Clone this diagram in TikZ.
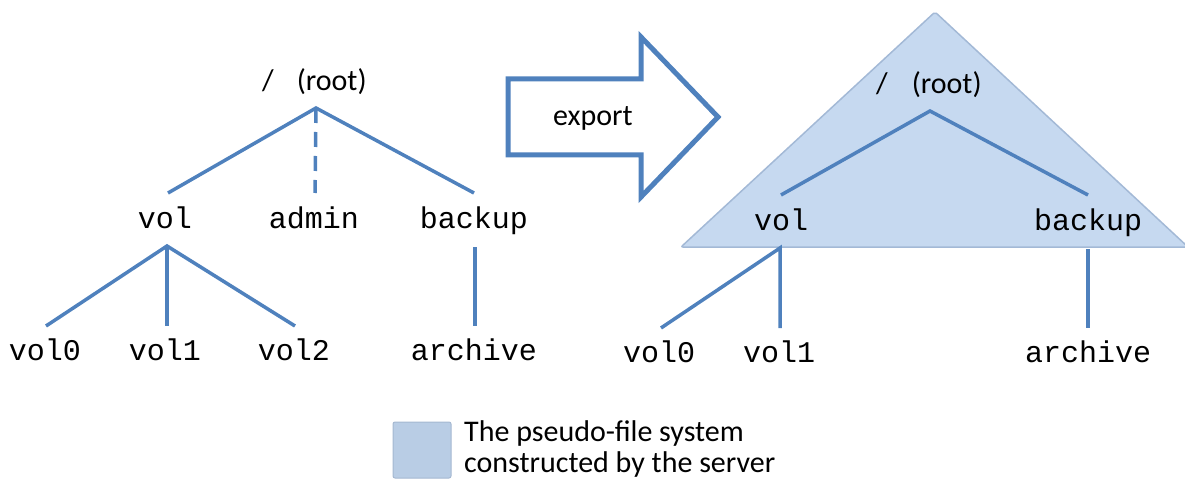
\documentclass[tikz,border=0pt]{standalone}
\usepackage{fontspec}
\setmainfont{Carlito}
\newfontfamily\codefont{Liberation Mono}
\definecolor{treeblue}{HTML}{4F81BD}
\definecolor{pseudofill}{HTML}{C6D9F0}
\definecolor{pseudoedge}{HTML}{A3B9D6}
\definecolor{legendfill}{HTML}{B9CDE5}
\definecolor{legendedge}{HTML}{A5B8D1}
\begin{document}
\begin{tikzpicture}[x=1pt,y=-1pt,
  branch/.style={draw=treeblue, line width=3.5pt},
  dirname/.style={font=\codefont\fontsize{30}{30}\selectfont, anchor=base, inner sep=0pt},
  caption/.style={font=\fontsize{30}{30}\selectfont, anchor=base west, inner sep=0pt},
  legendtext/.style={font=\fontsize{30}{31}\selectfont, anchor=base west, inner sep=0pt}]
\useasboundingbox (0,0) rectangle (1185,481);

% ---- pseudo-file system (drawn first, behind the right tree) ----
\path[fill=pseudofill, draw=pseudoedge, line width=1.5pt, rounded corners=2pt]
  (935,12) -- (1188,247) -- (681,247) -- cycle;

% ---- export arrow ----
\draw[treeblue, line width=5pt, fill=white, line join=miter]
  (508,79) -- (641,79) -- (641,37) -- (718,117) -- (641,197) -- (641,155) -- (508,155) -- cycle;
\node[caption] (export) at (553,126) {export};

% ---- original server tree ----
\node[caption] (lroot) at (262,91) {/\hspace{23pt}(root)};
\node[dirname] (lvol) at (165,228) {vol};
\node[dirname] (ladmin) at (314,228) {admin};
\node[dirname] (lbackup) at (474,228) {backup};
\node[dirname] (lvol0) at (45,360) {vol0};
\node[dirname] (lvol1) at (165,360) {vol1};
\node[dirname] (lvol2) at (294,360) {vol2};
\node[dirname] (larchive) at (474,360) {archive};

\coordinate (lroot-j) at (316,108);
\coordinate (lvol-t) at (168,193);
\coordinate (ladmin-t) at (315,193);
\coordinate (lbackup-t) at (474,193);
\coordinate (lvol-j) at (167,246);
\coordinate (lvol0-t) at (46,326);
\coordinate (lvol1-t) at (167,326);
\coordinate (lvol2-t) at (295,326);
\coordinate (lbackup-b) at (475,247);
\coordinate (larchive-t) at (475,326);

\draw[branch] (lvol-t) -- (lroot-j) -- (lbackup-t);
\draw[branch, dash pattern=on 15pt off 9pt] (lroot-j) -- (ladmin-t);
\draw[branch] (lvol0-t) -- (lvol-j) -- (lvol2-t);
\draw[branch] (lvol-j) -- (lvol1-t);
\draw[branch] (lbackup-b) -- (larchive-t);

% ---- exported pseudo-file system tree ----
\node[caption] (rroot) at (876,94) {/\hspace{24pt}(root)};
\node[dirname] (rvol) at (781,230) {vol};
\node[dirname] (rbackup) at (1088,230) {backup};
\node[dirname] (rvol0) at (659,362) {vol0};
\node[dirname] (rvol1) at (779,362) {vol1};
\node[dirname] (rarchive) at (1088,362) {archive};

\coordinate (rroot-j) at (930,111);
\coordinate (rvol-t) at (781,195);
\coordinate (rbackup-t) at (1088,195);
\coordinate (rvol-j) at (780,248);
\coordinate (rvol0-t) at (661,328);
\coordinate (rvol1-t) at (780,328);
\coordinate (rbackup-b) at (1088,249);
\coordinate (rarchive-t) at (1088,328);

\draw[branch] (rvol-t) -- (rroot-j) -- (rbackup-t);
\draw[branch] (rvol0-t) -- (rvol-j) -- (rvol1-t);
\draw[branch] (rbackup-b) -- (rarchive-t);

% ---- legend ----
\path[fill=legendfill, draw=legendedge, line width=1pt, rounded corners=2pt]
  (393,422) rectangle (451,478);
\node[legendtext] (legend1) at (464,441) {The pseudo-file system};
\node[legendtext] (legend2) at (464,472) {constructed by the server};
\end{tikzpicture}
\end{document}
